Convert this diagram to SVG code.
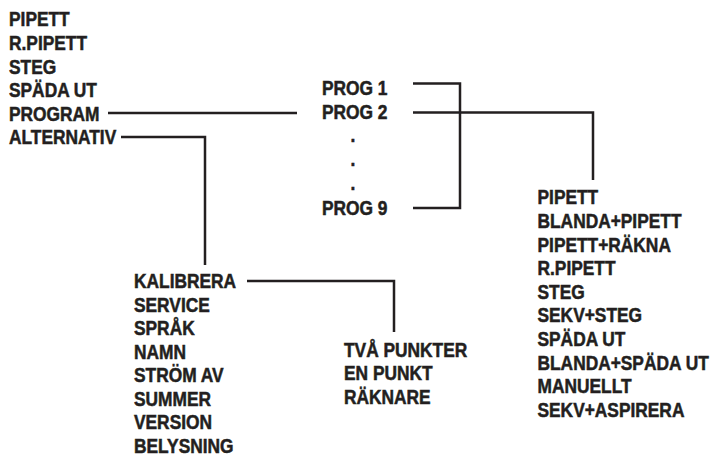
<svg xmlns="http://www.w3.org/2000/svg" width="716" height="456" viewBox="0 0 716 456">
  <style>
    text { font-family: "Liberation Sans", Arial, sans-serif; font-weight: bold; font-size: 19.5px; fill: #231f20; stroke: #231f20; stroke-width: 0.5; }
    .conn { fill: none; stroke: #231f20; stroke-width: 2.5; stroke-linecap: butt; stroke-linejoin: miter; }
  </style>
  <rect width="716" height="456" fill="#ffffff"/>

  <g id="connectors">
    <path class="conn" d="M108,113 H297"/>
    <path class="conn" d="M121,137 H205 V265"/>
    <path class="conn" d="M413,83.5 H460 V208 H413"/>
    <path class="conn" d="M413,112.5 H593 V180"/>
    <path class="conn" d="M247,281 H394 V332"/>
  </g>

  <g id="main-menu" transform="translate(9,0) scale(0.89,1)">
    <text x="0" y="26.5">PIPETT</text>
    <text x="0" y="50.1">R.PIPETT</text>
    <text x="0" y="73.7">STEG</text>
    <text x="0" y="97.3">SPÄDA UT</text>
    <text x="0" y="120.9">PROGRAM</text>
    <text x="0" y="144.5">ALTERNATIV</text>
  </g>

  <g id="program-list" transform="translate(322,0) scale(0.89,1)">
    <text x="0" y="95">PROG 1</text>
    <text x="0" y="119">PROG 2</text>
    <text x="32" y="142.5">.</text>
    <text x="32" y="166.5">.</text>
    <text x="32" y="190.5">.</text>
    <text x="0" y="215">PROG 9</text>
  </g>

  <g id="program-modes" transform="translate(537.5,0) scale(0.89,1)">
    <text x="0" y="204.5">PIPETT</text>
    <text x="0" y="228.1">BLANDA+PIPETT</text>
    <text x="0" y="251.7">PIPETT+RÄKNA</text>
    <text x="0" y="275.3">R.PIPETT</text>
    <text x="0" y="298.9">STEG</text>
    <text x="0" y="322.5">SEKV+STEG</text>
    <text x="0" y="346.1">SPÄDA UT</text>
    <text x="0" y="369.7">BLANDA+SPÄDA UT</text>
    <text x="0" y="393.3">MANUELLT</text>
    <text x="0" y="416.9">SEKV+ASPIRERA</text>
  </g>

  <g id="options" transform="translate(134,0) scale(0.89,1)">
    <text x="0" y="288.5">KALIBRERA</text>
    <text x="0" y="312">SERVICE</text>
    <text x="0" y="335.5">SPRÅK</text>
    <text x="0" y="359">NAMN</text>
    <text x="0" y="382.5">STRÖM AV</text>
    <text x="0" y="406">SUMMER</text>
    <text x="0" y="429.5">VERSION</text>
    <text x="0" y="453">BELYSNING</text>
  </g>

  <g id="calibration" transform="translate(344,0) scale(0.89,1)">
    <text x="0" y="357">TVÅ PUNKTER</text>
    <text x="0" y="380.5">EN PUNKT</text>
    <text x="0" y="404">RÄKNARE</text>
  </g>
</svg>
